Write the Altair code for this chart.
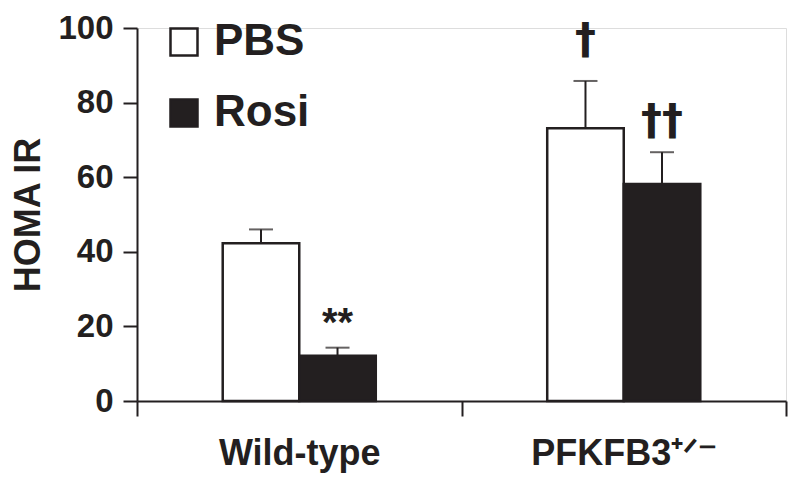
import altair as alt
import pandas as pd

groups = ["Wild-type", "PFKFB3⁺ᐟ⁻"]
treatments = ["PBS", "Rosi"]
group_col = ["Wild-type", "Wild-type", "PFKFB3⁺ᐟ⁻", "PFKFB3⁺ᐟ⁻"]
treat_col = ["PBS", "Rosi", "PBS", "Rosi"]
means = [42.3, 12.1, 73.1, 58.2]
errs = [3.7, 2.2, 12.7, 8.5]
signif = ["", "**", "†", "††"]
y_ticks = [0, 20, 40, 60, 80, 100]

df = pd.DataFrame({
    "group": group_col,
    "treatment": treat_col,
    "mean": means,
    "err": errs,
    "mark": signif,
})
df["upper"] = df["mean"] + df["err"]

FONT = "Liberation Sans"
INK = "#231f20"

x_enc = alt.X(
    "group:N", sort=groups,
    scale=alt.Scale(paddingInner=0, paddingOuter=0),
    axis=alt.Axis(title=None, tickBand="extent", labelAngle=0, labelFontSize=36,
                  labelFont=FONT, labelFontWeight="bold", labelColor=INK,
                  labelPadding=20, labelLimit=1000, tickSize=15, tickWidth=2,
                  tickColor=INK, domainColor=INK, domainWidth=2),
)
# empty slots either side of the pair of bars inside each group band
xo_enc = alt.XOffset("treatment:N",
                     scale=alt.Scale(domain=["_l"] + treatments + ["_r"],
                                     paddingInner=0, paddingOuter=0.12))

y_axis = alt.Axis(values=y_ticks, title="HOMA IR", titleFontSize=36, titleFont=FONT,
                  titleFontWeight="bold", titleColor=INK, titlePadding=10,
                  labelFontSize=33, labelFont=FONT, labelFontWeight="bold",
                  labelColor=INK, labelPadding=10, tickSize=14, tickWidth=2,
                  tickColor=INK, domainColor=INK, domainWidth=2, grid=False)
y_scale = alt.Scale(domain=[0, 100], nice=False)

base = alt.Chart(df).encode(x=x_enc, xOffset=xo_enc)

bars = base.mark_bar(stroke=INK, strokeWidth=2.5).encode(
    y=alt.Y("mean:Q", scale=y_scale, axis=y_axis),
    color=alt.Color(
        "treatment:N", sort=treatments,
        scale=alt.Scale(domain=treatments, range=["white", INK]),
        legend=alt.Legend(title=None, orient="none", legendX=25, legendY=-8,
                          symbolType="square", symbolSize=729,
                          symbolStrokeColor=INK, symbolStrokeWidth=2.5,
                          labelFontSize=44, labelFont=FONT, labelFontWeight="bold",
                          labelColor=INK, labelOffset=8, rowPadding=27, padding=0),
    ),
)

rules = base.mark_rule(color=INK, strokeWidth=2).encode(
    y=alt.Y("mean:Q", scale=y_scale, axis=y_axis), y2="upper:Q"
)
caps = base.mark_tick(color=INK, thickness=2, size=24).encode(
    y=alt.Y("upper:Q", scale=y_scale, axis=y_axis)
)
stars = base.transform_filter(alt.datum.mark == "**").mark_text(
    font=FONT, fontWeight="bold", fontSize=40, color=INK, baseline="bottom", dy=-4
).encode(y=alt.Y("upper:Q", scale=y_scale, axis=y_axis), text="mark:N")
dagger1 = base.transform_filter(alt.datum.mark == "†").mark_text(
    font="DejaVu Sans", fontWeight="bold", fontSize=42, color=INK,
    baseline="bottom", dy=-19
).encode(y=alt.Y("upper:Q", scale=y_scale, axis=y_axis), text="mark:N")
dagger2 = base.transform_filter(alt.datum.mark == "††").mark_text(
    font="DejaVu Sans", fontWeight="bold", fontSize=42, color=INK,
    baseline="bottom", dy=-9
).encode(y=alt.Y("upper:Q", scale=y_scale, axis=y_axis), text="mark:N")

chart = alt.layer(bars, rules, caps, stars, dagger1, dagger2).properties(
    width=649, height=373,
    autosize=alt.AutoSizeParams(type="none"),
    padding={"left": 129, "top": 20, "right": 6, "bottom": 77},
).configure_view(stroke=None).configure(background="white")

chart.save("out.html", embed_options={"renderer": "svg", "actions": False})
